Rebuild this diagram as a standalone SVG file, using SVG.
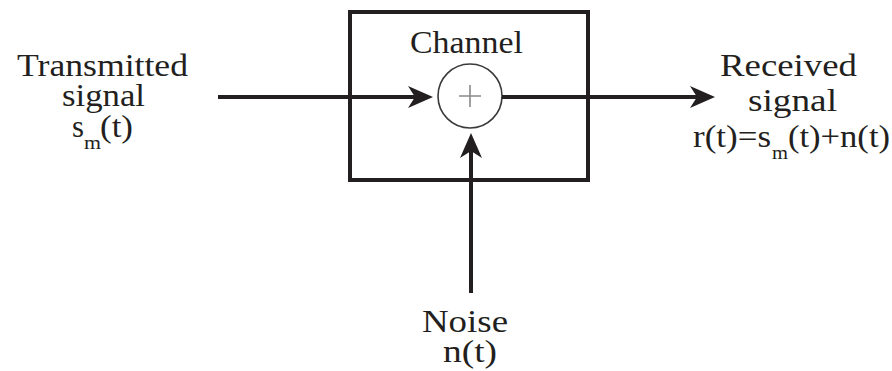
<svg xmlns="http://www.w3.org/2000/svg" width="892" height="371" viewBox="0 0 892 371">
  <style>
    .t { font-family: "Liberation Serif", "Tinos", "DejaVu Serif", "Times New Roman", serif; font-size: 31px; fill: #231f20; }
    .sub { font-size: 18px; }
    .ln { stroke: #231f20; stroke-width: 4; fill: none; }
  </style>
  <defs>
    <marker id="arr" viewBox="-16 -12 28 24" refX="0" refY="0" markerWidth="28" markerHeight="24" markerUnits="userSpaceOnUse" orient="auto">
      <path d="M10,0 L-15,-11 L-8,0 L-15,11 Z" fill="#231f20"/>
    </marker>
  </defs>
  <rect width="892" height="371" fill="#ffffff"/>

  <g id="input">
    <text class="t" x="17" y="76" textLength="171" lengthAdjust="spacingAndGlyphs">Transmitted</text>
    <text class="t" x="62" y="106" textLength="83" lengthAdjust="spacingAndGlyphs">signal</text>
    <text class="t" y="137"><tspan x="72" textLength="12" lengthAdjust="spacingAndGlyphs">s</tspan><tspan class="sub" x="84" dy="12" textLength="17" lengthAdjust="spacingAndGlyphs">m</tspan><tspan x="100" dy="-12" textLength="33" lengthAdjust="spacingAndGlyphs">(t)</tspan></text>
  </g>

  <g id="channel">
    <rect x="350" y="12" width="238" height="168" class="ln"/>
    <text class="t" x="410" y="53" textLength="113" lengthAdjust="spacingAndGlyphs">Channel</text>
  </g>

  <g id="adder">
    <circle cx="470" cy="96" r="32" fill="#ffffff" stroke="#3a3a3a" stroke-width="1.6"/>
    <path d="M459,96 H481 M470,85 V107" stroke="#8a8a8a" stroke-width="1.6" fill="none"/>
  </g>

  <g id="output">
    <text class="t" x="720" y="76" textLength="137" lengthAdjust="spacingAndGlyphs">Received</text>
    <text class="t" x="748" y="111" textLength="89" lengthAdjust="spacingAndGlyphs">signal</text>
    <text class="t" y="147"><tspan x="693" textLength="78" lengthAdjust="spacingAndGlyphs">r(t)=s</tspan><tspan class="sub" x="772" dy="12" textLength="16" lengthAdjust="spacingAndGlyphs">m</tspan><tspan x="788" dy="-12" textLength="102" lengthAdjust="spacingAndGlyphs">(t)+n(t)</tspan></text>
  </g>

  <g id="noise">
    <text class="t" x="422" y="332" textLength="86" lengthAdjust="spacingAndGlyphs">Noise</text>
    <text class="t" x="443" y="362" textLength="54" lengthAdjust="spacingAndGlyphs">n(t)</text>
  </g>

  <g id="connectors">
    <line class="ln" x1="218" y1="97" x2="423" y2="97" marker-end="url(#arr)"/>
    <line class="ln" x1="502" y1="97" x2="705" y2="97" marker-end="url(#arr)"/>
    <line class="ln" x1="471" y1="293" x2="471" y2="143" marker-end="url(#arr)"/>
  </g>
</svg>
